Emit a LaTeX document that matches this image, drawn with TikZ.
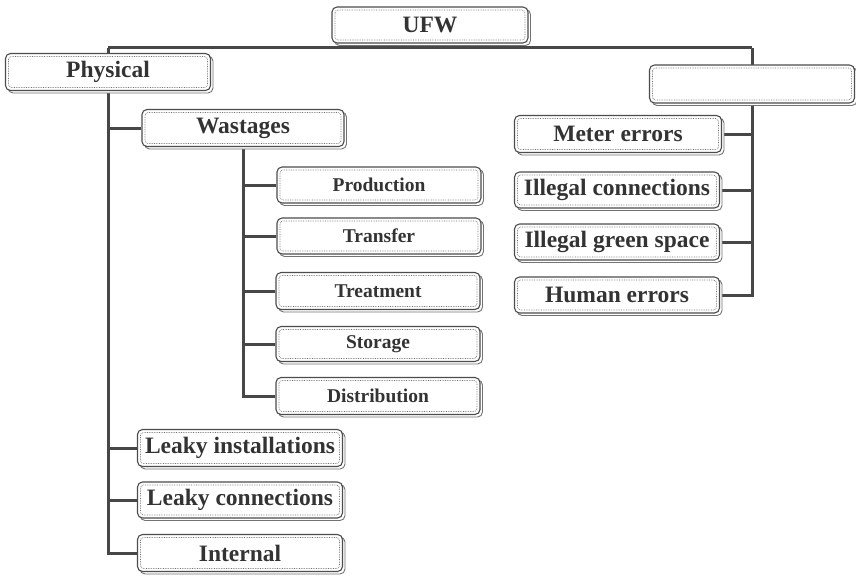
\documentclass[tikz,border=0pt]{standalone}
\usepackage{fontspec}
\setmainfont{Liberation Serif}
\usetikzlibrary{shadows,backgrounds}
\tikzset{
  box/.style={draw=black!70, line width=1.1pt, rounded corners=5pt, fill=white,
    inner sep=0pt, text=black!80, align=center,
    copy shadow={shadow xshift=2.5pt, shadow yshift=-2.5pt, draw=black!55, line width=0.9pt},
    path picture={\draw[densely dotted, black!55, line width=0.7pt, rounded corners=3pt]
      ([shift={(3pt,-3pt)}]path picture bounding box.north west) rectangle
      ([shift={(-3pt,3pt)}]path picture bounding box.south east);}},
  bigbox/.style={box, font=\fontsize{23.5}{26}\selectfont\bfseries, minimum width=205pt, minimum height=37pt},
  smallbox/.style={box, font=\fontsize{19.5}{22}\selectfont\bfseries, minimum width=204pt, minimum height=36pt},
  link/.style={draw=black!72, line width=3pt}
}
\begin{document}
\begin{tikzpicture}[x=1pt,y=-1pt]
\useasboundingbox (0,0) rectangle (856,578);
% nodes
\node[bigbox, minimum width=196pt, minimum height=36pt] (ufw) at (430,25) {UFW};
\node[bigbox] (phys) at (108,72) {Physical};
\node[bigbox, minimum height=38pt] (right) at (752,84) {};
\node[bigbox, minimum width=202pt] (wast) at (243,128) {Wastages};
\node[smallbox] (prod) at (379,185) {Production};
\node[smallbox] (trans) at (379,236) {Transfer};
\node[smallbox, minimum height=37pt] (treat) at (378,291) {Treatment};
\node[smallbox, minimum height=35pt] (stor) at (378,344) {Storage};
\node[smallbox, minimum height=37pt] (dist) at (378,396) {Distribution};
\node[bigbox, minimum width=207pt] (meter) at (618,134) {Meter errors};
\node[bigbox, minimum height=36pt] (illc) at (617,190) {Illegal connections};
\node[bigbox, minimum height=36pt] (illg) at (617,242) {Illegal green space};
\node[bigbox, minimum height=36pt] (human) at (617,295) {Human errors};
\node[bigbox] (leaki) at (240,448) {Leaky installations};
\node[bigbox, minimum height=36pt] (leakc) at (240,500) {Leaky connections};
\node[bigbox] (intern) at (240,553) {Internal};
\coordinate (top) at (430,48);
% connectors
\begin{scope}[on background layer]
\draw[link] (ufw.south) -- (top);
\draw[link] (phys.north |- top) -- (right.north |- top);
\draw[link] (phys.north |- top) -- (intern.west -| phys.north) -- (intern.west);
\draw[link] (wast.west -| phys.north) -- (wast.west);
\draw[link] (leaki.west -| phys.north) -- (leaki.west);
\draw[link] (leakc.west -| phys.north) -- (leakc.west);
\draw[link] (right.north |- top) -- (human.east -| right.north) -- (human.east);
\draw[link] (meter.east) -- (meter.east -| right.north);
\draw[link] (illc.east) -- (illc.east -| right.north);
\draw[link] (illg.east) -- (illg.east -| right.north);
\draw[link] (wast.south) -- (dist.west -| wast.south) -- (dist.west);
\draw[link] (prod.west -| wast.south) -- (prod.west);
\draw[link] (trans.west -| wast.south) -- (trans.west);
\draw[link] (treat.west -| wast.south) -- (treat.west);
\draw[link] (stor.west -| wast.south) -- (stor.west);
\end{scope}
\end{tikzpicture}
\end{document}
